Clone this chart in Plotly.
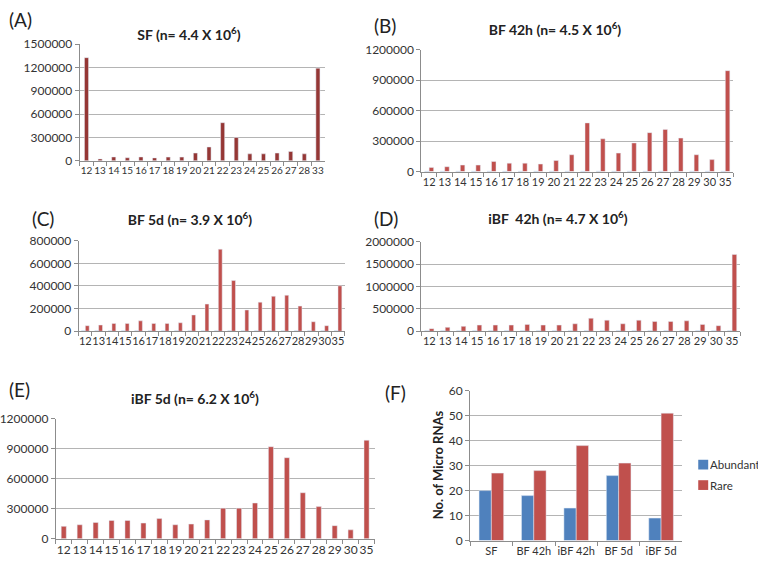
import plotly.graph_objects as go

W, H = 758, 569

# ---------------- data ----------------
cats_A = ["12", "13", "14", "15", "16", "17", "18", "19", "20", "21", "22",
          "23", "24", "25", "26", "27", "28", "33"]
vals_A = [1325000, 25000, 50000, 40000, 50000, 38000, 48000, 48000, 100000,
          178000, 490000, 300000, 90000, 90000, 100000, 120000, 90000, 1190000]

cats_len = ["12", "13", "14", "15", "16", "17", "18", "19", "20", "21", "22",
            "23", "24", "25", "26", "27", "28", "29", "30", "35"]

abund_B = [6000] * 20
rare_B = [41000, 48000, 64000, 64000, 99000, 83000, 83000, 74000, 109000, 166000,
          480000, 323000, 182000, 282000, 384000, 416000, 330000, 166000, 118000, 995000]

abund_C = [5000] * 20
rare_C = [49000, 55000, 69000, 69000, 92000, 69000, 69000, 75000, 144000, 240000,
          725000, 448000, 188000, 257000, 309000, 318000, 222000, 84000, 49000, 401000]

abund_D = [12000] * 20
rare_D = [58000, 87000, 109000, 138000, 138000, 138000, 153000, 138000, 138000, 167000,
          290000, 247000, 167000, 247000, 218000, 218000, 233000, 153000, 124000, 1716000]

vals_E = [123000, 139000, 162000, 182000, 182000, 156000, 201000, 139000, 146000, 188000,
          305000, 305000, 357000, 921000, 811000, 460000, 321000, 130000, 88000, 986000]

groups_F = ["SF", "BF 42h", "iBF 42h", "BF 5d", "iBF 5d"]
abundant_F = [20, 18, 13, 26, 9]
rare_F = [27, 28, 38, 31, 51]
series_F = ["Abundant", "Rare"]

titles = {
    "A": "<b>SF (n= 4.4 X 10<sup>6</sup>)</b>",
    "B": "<b>BF 42h (n= 4.5 X 10<sup>6</sup>)</b>",
    "C": "<b>BF 5d (n= 3.9 X 10<sup>6</sup>)</b>",
    "D": "<b>iBF  42h (n= 4.7 X 10<sup>6</sup>)</b>",
    "E": "<b>iBF 5d (n= 6.2 X 10<sup>6</sup>)</b>",
}

# ---------------- style ----------------
BLUE = "#4F81BD"
RED = "#C0504D"
DARKRED = "#953735"
FONT = "Lato"
TXT = "#333333"
GRID = "#B4B4B4"
AXIS = "#8C8C8C"


def px_x(x):
    return x / W


def px_y(y):
    return 1 - y / H


fig = go.Figure()

panels = [
    ("A", "", (77, 323), (37, 157), 1500000, 300000, cats_A, 10),
    ("B", "2", (420, 733), (43, 168), 1200000, 300000, cats_len, 11),
    ("C", "3", (76, 343), (239, 332), 800000, 200000, cats_len, 11),
    ("D", "4", (420, 740), (240, 332), 2000000, 500000, cats_len, 11),
    ("E", "5", (53, 373), (422, 545), 1200000, 300000, cats_len, 12),
    ("F", "6", (469, 682), (393, 547), 60, 10, groups_F, 11),
]

# traces
fig.add_trace(go.Bar(x=cats_A, y=vals_A, marker_color=DARKRED, xaxis="x", yaxis="y",
                     showlegend=False, width=0.3))
for suf, ab, ra in [("2", abund_B, rare_B), ("3", abund_C, rare_C), ("4", abund_D, rare_D)]:
    fig.add_trace(go.Bar(x=cats_len, y=ab, marker_color=BLUE, xaxis="x" + suf,
                         yaxis="y" + suf, showlegend=False))
    fig.add_trace(go.Bar(x=cats_len, y=ra, marker_color=RED, xaxis="x" + suf,
                         yaxis="y" + suf, showlegend=False))
fig.add_trace(go.Bar(x=cats_len, y=vals_E, marker_color=RED, xaxis="x5", yaxis="y5",
                     showlegend=False, width=0.32))
fig.add_trace(go.Bar(x=groups_F, y=abundant_F, marker_color=BLUE, xaxis="x6", yaxis="y6",
                     name=series_F[0], showlegend=False))
fig.add_trace(go.Bar(x=groups_F, y=rare_F, marker_color=RED, xaxis="x6", yaxis="y6",
                     name=series_F[1], showlegend=False))

layout = {}
for key, suf, (x0, x1), (yt, yb), ymax, dt, cats, xfs in panels:
    xa = dict(
        domain=[px_x(x0), px_x(x1)], anchor="y" + suf, type="category",
        tickmode="array", tickvals=cats, ticktext=cats, tickangle=0,
        showline=True, linecolor=AXIS, linewidth=1, ticks="outside", tickson="boundaries",
        ticklen=4, tickcolor=AXIS, showgrid=False, zeroline=False,
        tickfont=dict(family=FONT, size=xfs, color=TXT), fixedrange=True,
    )
    ya = dict(
        domain=[px_y(yb), px_y(yt)], anchor="x" + suf, range=[0, ymax], dtick=dt,
        tick0=0, tickformat="d", showline=True, linecolor=AXIS, linewidth=1,
        ticks="outside", ticklen=4, tickcolor=AXIS, showgrid=True, gridcolor=GRID,
        gridwidth=1, zeroline=False, tickfont=dict(family=FONT, size=12, color=TXT),
        fixedrange=True,
    )
    layout["xaxis" + suf] = xa
    layout["yaxis" + suf] = ya

fig.update_layout(**layout)

fig.update_layout(
    width=W, height=H,
    margin=dict(l=0, r=0, t=0, b=0),
    paper_bgcolor="white", plot_bgcolor="white",
    barmode="group", bargap=0.42, bargroupgap=0.0,
    font=dict(family=FONT, color=TXT),
    showlegend=False,
)

annotations = []
shapes = []
title_pos = {"A": (187, 26), "B": (554, 21), "C": (188, 216), "D": (557, 215), "E": (193, 400)}
for k, (x, y) in title_pos.items():
    annotations.append(dict(text=titles[k], x=px_x(x), y=px_y(y), xref="paper", yref="paper",
                            showarrow=False, xanchor="center", yanchor="middle", width=170,
                            font=dict(family=FONT, size=14, color="#222222")))

label_pos = {"A": (4, 12), "B": (370, 18), "C": (27, 216), "D": (370, 216),
             "E": (4, 392), "F": (382, 395)}
for k, (x, y) in label_pos.items():
    annotations.append(dict(text="(%s)" % k, x=px_x(x), y=px_y(y), xref="paper", yref="paper",
                            showarrow=False, xanchor="left", yanchor="middle", width=30,
                            align="left",
                            font=dict(family=FONT, size=19, color="#222222")))

annotations.append(dict(text="<b>No. of Micro RNAs</b>", x=px_x(436), y=px_y(469),
                        xref="paper", yref="paper", showarrow=False, textangle=-90,
                        xanchor="center", yanchor="middle", width=130,
                        font=dict(family=FONT, size=13, color="#222222")))

# legend for panel F
for name, col, yc in [(series_F[0], BLUE, 469), (series_F[1], RED, 490)]:
    shapes.append(dict(type="rect", xref="paper", yref="paper",
                       x0=px_x(698), x1=px_x(708), y0=px_y(yc + 5), y1=px_y(yc - 5),
                       fillcolor=col, line=dict(width=0)))
    annotations.append(dict(text=name, x=px_x(708), y=px_y(yc), xref="paper", yref="paper",
                            showarrow=False, xanchor="left", yanchor="middle", width=62,
                            align="left",
                            font=dict(family=FONT, size=11.5, color=TXT)))

fig.update_layout(annotations=annotations, shapes=shapes)

fig.write_html("out.html", config={"displayModeBar": False},
               post_script="document.body.style.margin='0';document.body.style.overflow='hidden';")
